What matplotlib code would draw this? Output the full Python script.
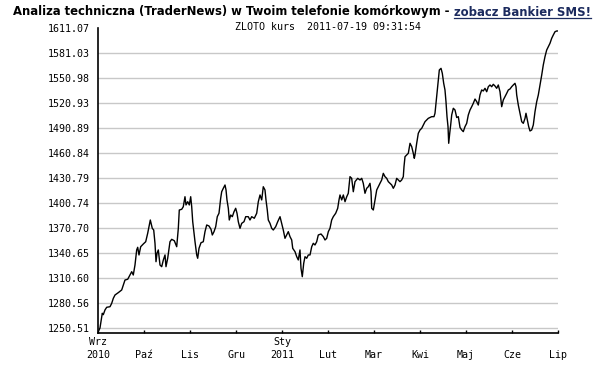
import matplotlib
matplotlib.use("Agg")
import matplotlib.pyplot as plt
from matplotlib.lines import Line2D

# position in months since start of Sep 2010 (Wrz=0 ... Lip=10)
months = [0.022, 0.043, 0.080, 0.093, 0.115, 0.152, 0.189, 0.261, 0.298, 0.333,
          0.370, 0.441, 0.515, 0.550, 0.587, 0.646, 0.696, 0.733, 0.767, 0.804,
          0.841, 0.863, 0.891, 0.928, 0.985, 1.037, 1.080, 1.109, 1.137, 1.180,
          1.211, 1.239, 1.261, 1.283, 1.311, 1.348, 1.385, 1.420, 1.457, 1.478,
          1.515, 1.565, 1.602, 1.659, 1.711, 1.746, 1.767, 1.820, 1.854, 1.891,
          1.913, 1.950, 1.985, 2.015, 2.037, 2.059, 2.087, 2.109, 2.146, 2.167,
          2.196, 2.239, 2.289, 2.326, 2.363, 2.413, 2.457, 2.485, 2.522, 2.559,
          2.593, 2.630, 2.667, 2.689, 2.724, 2.761, 2.783, 2.804, 2.833, 2.854,
          2.885, 2.920, 2.957, 2.993, 3.022, 3.050, 3.087, 3.124, 3.174, 3.211,
          3.267, 3.304, 3.341, 3.398, 3.450, 3.485, 3.522, 3.559, 3.593, 3.630,
          3.652, 3.680, 3.702, 3.739, 3.776, 3.811, 3.863, 3.907, 3.957, 3.993,
          4.028, 4.065, 4.102, 4.137, 4.174, 4.211, 4.233, 4.283, 4.320, 4.354,
          4.391, 4.413, 4.441, 4.472, 4.500, 4.537, 4.572, 4.609, 4.646, 4.680,
          4.717, 4.754, 4.789, 4.848, 4.898, 4.935, 4.972, 5.007, 5.043, 5.080,
          5.115, 5.167, 5.211, 5.239, 5.261, 5.298, 5.333, 5.370, 5.407, 5.441,
          5.478, 5.515, 5.550, 5.587, 5.646, 5.696, 5.733, 5.767, 5.804, 5.841,
          5.876, 5.913, 5.935, 5.950, 5.985, 6.022, 6.059, 6.093, 6.130, 6.167,
          6.202, 6.239, 6.276, 6.311, 6.348, 6.385, 6.420, 6.457, 6.493, 6.528,
          6.565, 6.602, 6.637, 6.652, 6.674, 6.711, 6.746, 6.783, 6.820, 6.854,
          6.876, 6.891, 6.928, 6.963, 7.000, 7.037, 7.072, 7.109, 7.146, 7.180,
          7.254, 7.304, 7.326, 7.348, 7.370, 7.398, 7.420, 7.457, 7.485, 7.515,
          7.543, 7.565, 7.587, 7.609, 7.624, 7.646, 7.667, 7.689, 7.724, 7.761,
          7.798, 7.833, 7.870, 7.907, 7.941, 7.978, 8.015, 8.050, 8.087, 8.124,
          8.159, 8.196, 8.233, 8.267, 8.304, 8.341, 8.376, 8.413, 8.450, 8.485,
          8.522, 8.559, 8.593, 8.630, 8.667, 8.702, 8.739, 8.776, 8.811, 8.848,
          8.885, 8.920, 8.957, 8.993, 9.028, 9.065, 9.087, 9.102, 9.137, 9.174,
          9.211, 9.246, 9.283, 9.304, 9.333, 9.363, 9.391, 9.428, 9.463, 9.500,
          9.537, 9.572, 9.609, 9.646, 9.680, 9.717, 9.754, 9.789, 9.826, 9.863,
          9.898, 9.935, 9.972, 10.0]

kurs = [1248.0, 1250.5, 1264.1, 1268.2, 1266.5, 1272.2, 1275.4, 1276.1, 1280.2, 1286.2,
        1290.2, 1293.0, 1296.2, 1302.2, 1308.2, 1309.1, 1314.2, 1318.2, 1314.2, 1326.2,
        1344.3, 1347.5, 1338.3, 1348.2, 1351.5, 1354.2, 1364.3, 1372.3, 1380.3, 1370.3,
        1368.3, 1352.3, 1330.2, 1340.3, 1344.3, 1326.2, 1324.2, 1332.2, 1338.3, 1324.2,
        1334.3, 1354.2, 1357.1, 1355.4, 1348.2, 1370.3, 1392.3, 1393.2, 1396.3, 1408.3,
        1398.4, 1402.3, 1398.4, 1408.3, 1396.3, 1378.3, 1364.3, 1354.2, 1338.3, 1334.3,
        1346.3, 1353.0, 1354.2, 1366.3, 1374.3, 1373.1, 1369.1, 1362.3, 1366.3, 1372.3,
        1384.3, 1388.4, 1406.4, 1414.3, 1418.4, 1422.4, 1416.4, 1404.4, 1394.4, 1380.3,
        1386.3, 1384.3, 1390.3, 1394.4, 1388.4, 1378.3, 1370.3, 1376.3, 1378.3, 1384.3,
        1384.3, 1380.3, 1384.3, 1382.4, 1388.4, 1402.3, 1410.4, 1404.4, 1420.3, 1416.4,
        1404.4, 1392.3, 1380.3, 1376.3, 1370.3, 1368.3, 1372.3, 1378.3, 1384.3, 1376.3,
        1368.3, 1358.3, 1362.3, 1366.3, 1360.3, 1356.3, 1346.3, 1342.2, 1336.2, 1332.3,
        1344.3, 1322.3, 1312.2, 1328.3, 1336.2, 1334.3, 1338.3, 1338.3, 1348.2, 1352.3,
        1350.3, 1354.2, 1362.3, 1363.5, 1360.3, 1356.3, 1358.3, 1366.3, 1370.3, 1380.3,
        1384.3, 1388.4, 1394.4, 1404.4, 1410.4, 1404.4, 1410.4, 1402.3, 1408.3, 1412.4,
        1432.4, 1430.4, 1414.3, 1426.4, 1430.4, 1428.4, 1430.4, 1424.4, 1412.4, 1418.4,
        1420.3, 1424.4, 1414.3, 1394.4, 1392.3, 1404.4, 1416.4, 1420.3, 1424.4, 1428.4,
        1436.4, 1432.4, 1430.4, 1426.4, 1424.4, 1422.4, 1418.4, 1422.4, 1430.4, 1428.4,
        1426.4, 1428.4, 1432.4, 1444.4, 1456.4, 1458.5, 1460.5, 1472.5, 1468.4, 1460.5,
        1454.5, 1458.5, 1472.5, 1484.5, 1488.5, 1490.5, 1494.5, 1498.5, 1500.5, 1502.5,
        1504.5, 1504.5, 1508.6, 1520.6, 1532.6, 1548.6, 1560.6, 1562.6, 1556.6, 1544.6,
        1536.6, 1522.5, 1504.5, 1492.5, 1472.5, 1484.5, 1494.5, 1506.5, 1514.6, 1512.5,
        1503.5, 1504.5, 1491.5, 1488.5, 1486.5, 1492.5, 1496.5, 1506.5, 1512.5, 1516.5,
        1520.6, 1525.7, 1522.5, 1518.5, 1530.6, 1536.6, 1535.4, 1538.6, 1534.5, 1540.5,
        1542.6, 1540.5, 1543.4, 1541.4, 1538.6, 1542.6, 1534.5, 1516.5, 1524.6, 1528.5,
        1532.6, 1536.6, 1537.8, 1540.5, 1542.6, 1544.6, 1540.5, 1530.6, 1518.5, 1508.6,
        1498.5, 1496.5, 1502.5, 1508.6, 1500.5, 1492.5, 1487.3, 1488.5, 1494.5, 1510.5,
        1522.5, 1530.6, 1542.6, 1554.6, 1566.6, 1576.6, 1584.6, 1588.6, 1592.7, 1598.7,
        1602.7, 1606.6, 1607.5, 1607.5]

y_ticks = [1250.51, 1280.56, 1310.60, 1340.65, 1370.70, 1400.74, 1430.79,
           1460.84, 1490.89, 1520.93, 1550.98, 1581.03, 1611.07]
x_labels = ["Wrz\n2010", "\nPaź", "\nLis", "\nGru", "Sty\n2011", "\nLut",
            "\nMar", "\nKwi", "\nMaj", "\nCze", "\nLip"]

W, H = 611, 369
fig = plt.figure(figsize=(W / 100, H / 100), dpi=100)
fig.patch.set_facecolor("white")

# axes box in pixels: left 98, right 558, top 28, bottom 333
ax = fig.add_axes([98 / W, 1 - 333 / H, (558 - 98) / W, (333 - 28) / H])

for yt in y_ticks[:-1]:
    ax.axhline(yt, color="#c8c8c8", lw=1.0, zorder=1)

ax.plot(months, kurs, color="black", lw=1.0, zorder=3)

ax.set_xlim(0, 10)
ax.set_ylim(1244.5, 1611.07)

mono = "DejaVu Sans Mono"
ax.set_yticks(y_ticks)
ax.set_yticklabels(["%.2f" % v for v in y_ticks], family=mono, fontsize=7.2)
ax.tick_params(axis="y", length=0, pad=6)

ax.set_xticks(range(11))
ax.set_xticklabels(x_labels, family=mono, fontsize=7.2, linespacing=1.35)
ax.tick_params(axis="x", direction="in", length=2.5, width=1, pad=3)

for s in ["top", "right"]:
    ax.spines[s].set_visible(False)
for s in ["left", "bottom"]:
    ax.spines[s].set_color("black")
    ax.spines[s].set_linewidth(1.2)

# header
t1 = fig.text(13 / W, 1 - 12 / H,
              "Analiza techniczna (TraderNews) w Twoim telefonie komórkowym - ",
              fontsize=8.4, fontweight="bold", va="center", ha="left")
fig.canvas.draw()
r = fig.canvas.get_renderer()
bb = t1.get_window_extent(r)
t2 = fig.text(bb.x1 / W, 1 - 12 / H, "zobacz Bankier SMS!",
              fontsize=8.4, fontweight="bold", va="center", ha="left",
              color="#1c2b5e")
bb2 = t2.get_window_extent(r)
uy = (bb2.y0 + 1) / H
fig.add_artist(Line2D([bb2.x0 / W, bb2.x1 / W], [uy, uy], color="#1c2b5e", lw=0.9))

fig.text(328 / W, 1 - 27 / H, "ZLOTO kurs  2011-07-19 09:31:54",
         family=mono, fontsize=7.2, ha="center", va="center")

fig.savefig("out.png", dpi=100, facecolor="white")
